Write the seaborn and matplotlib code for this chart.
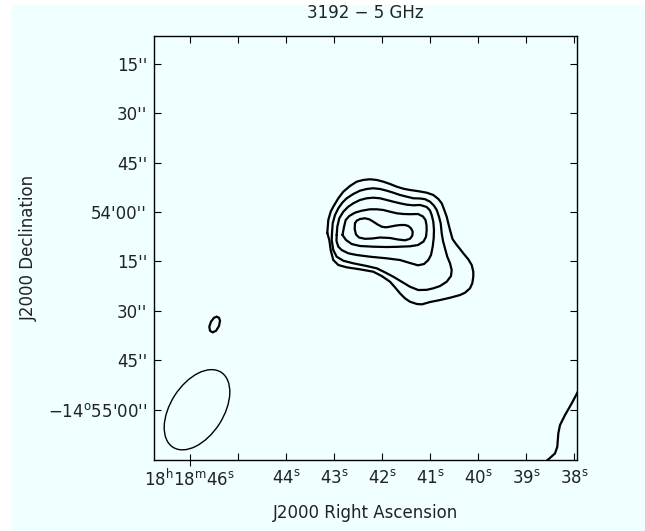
import numpy as np
import pandas as pd
import matplotlib
matplotlib.use("Agg")
import matplotlib.pyplot as plt
import seaborn as sns
from matplotlib.patches import Ellipse, Rectangle
from matplotlib.transforms import Affine2D

# ---------------- data (RA in seconds of 18h18m, Dec in arcsec offset from -14d54m00s) -------------
ra_ticks = [46, 45, 44, 43, 42, 41, 40, 39, 38]
ra_labels = [r"18$^{\mathrm{h}}$18$^{\mathrm{m}}$46$^{\mathrm{s}}$", "",
             r"44$^{\mathrm{s}}$", r"43$^{\mathrm{s}}$", r"42$^{\mathrm{s}}$",
             r"41$^{\mathrm{s}}$", r"40$^{\mathrm{s}}$", r"39$^{\mathrm{s}}$",
             r"38$^{\mathrm{s}}$"]
dec_ticks = [45, 30, 15, 0, -15, -30, -45, -60]
dec_labels = ["15''", "30''", "45''", "54'00''", "15''", "30''", "45''",
              "\u221214$^{\\mathrm{o}}$55'00''"]

c1_ra = [43.140, 43.119, 43.069, 43.015, 42.910, 42.806, 42.667, 42.527, 42.390, 42.250,
         42.110, 41.973, 41.833, 41.694, 41.556, 41.417, 41.244, 41.069, 40.931, 40.827,
         40.756, 40.702, 40.652, 40.619, 40.583, 40.531, 40.458, 40.375, 40.306, 40.202,
         40.131, 40.098, 40.098, 40.119, 40.167, 40.271, 40.375, 40.583, 40.792, 41.000,
         41.167, 41.271, 41.417, 41.521, 41.625, 41.729, 41.833, 42.006, 42.181, 42.458,
         42.735, 42.910, 43.015, 43.069, 43.098]
c1_dec = [-6.38, -2.43, 0.09, 1.61, 4.16, 6.16, 7.89, 9.20, 9.72, 9.93,
          9.72, 9.20, 8.50, 7.68, 7.07, 6.68, 6.31, 5.86, 5.16, 3.95,
          2.64, 0.61, -1.43, -3.43, -5.46, -8.20, -9.72, -11.23, -12.54, -14.36,
          -16.09, -18.12, -19.64, -21.65, -23.16, -24.50, -25.20, -26.02, -26.72, -27.32,
          -28.02, -27.93, -27.23, -26.20, -24.68, -22.86, -21.16, -19.43, -18.12, -17.40,
          -16.79, -16.09, -14.57, -11.54, -8.50]

c2_ra = [43.042, 43.027, 42.979, 42.910, 42.827, 42.735, 42.598, 42.458, 42.319, 42.181,
         42.042, 41.902, 41.765, 41.625, 41.485, 41.348, 41.208, 41.104, 41.000, 40.917,
         40.860, 40.813, 40.777, 40.756, 40.729, 40.688, 40.640, 40.583, 40.548, 40.563,
         40.652, 40.792, 40.931, 41.069, 41.244, 41.417, 41.590, 41.765, 41.938, 42.110,
         42.319, 42.598, 42.806, 42.944, 43.015, 43.048]
c2_dec = [-6.47, -3.43, -0.91, 1.12, 2.82, 4.16, 5.46, 6.47, 6.98, 7.20,
          6.98, 6.47, 5.86, 5.16, 4.65, 4.16, 4.10, 3.89, 3.13, 1.91,
          0.61, -1.43, -3.43, -6.47, -8.80, -11.02, -13.57, -15.57, -17.61, -19.43,
          -21.16, -22.47, -23.16, -23.62, -23.68, -22.68, -21.16, -19.64, -18.31, -17.09,
          -16.39, -15.57, -14.79, -13.57, -11.54, -8.50]

c3_ra = [42.944, 42.931, 42.890, 42.806, 42.702, 42.598, 42.458, 42.319, 42.181, 42.042,
         41.902, 41.765, 41.625, 41.485, 41.348, 41.208, 41.069, 41.000, 40.965, 40.931,
         40.917, 40.923, 40.944, 40.979, 41.035, 41.125, 41.250, 41.417, 41.625, 41.902,
         42.250, 42.527, 42.702, 42.840, 42.910, 42.948]
c3_dec = [-6.98, -4.46, -1.91, 0.09, 1.61, 2.64, 3.64, 4.16, 4.34, 4.16,
          3.64, 3.13, 2.64, 2.22, 2.03, 2.13, 1.52, 0.46, -0.91, -2.94,
          -5.46, -7.98, -10.53, -13.05, -14.57, -15.79, -16.18, -15.48, -14.57, -14.06,
          -13.57, -13.05, -12.54, -11.54, -10.53, -8.80]

c4_ra = [42.823, 42.792, 42.756, 42.681, 42.563, 42.423, 42.250, 42.110, 41.973, 41.833,
         41.694, 41.556, 41.417, 41.250, 41.146, 41.094, 41.073, 41.069, 41.083, 41.135,
         41.250, 41.417, 41.694, 41.902, 42.181, 42.458, 42.631, 42.750]
c4_dec = [-6.98, -4.55, -2.43, -1.21, -0.21, 0.39, 0.82, 0.82, 0.61, 0.09,
          -0.39, -0.61, -0.67, -0.61, -1.37, -2.43, -3.95, -5.46, -7.50, -8.96,
          -10.02, -10.41, -10.57, -10.63, -10.53, -10.32, -9.72, -8.50]

c5_ra = [42.563, 42.527, 42.458, 42.354, 42.265, 42.181, 42.098, 42.006, 41.917, 41.833,
         41.729, 41.625, 41.521, 41.452, 41.396, 41.360, 41.369, 41.417, 41.521, 41.667,
         41.833, 42.042, 42.208, 42.354, 42.479, 42.542, 42.569]
c5_dec = [-3.43, -2.64, -2.13, -1.91, -2.22, -2.94, -3.73, -4.46, -4.65, -4.46,
          -4.16, -3.95, -3.95, -4.25, -4.95, -5.98, -7.20, -8.14, -8.59, -8.35,
          -7.89, -7.74, -8.05, -8.14, -7.74, -6.83, -5.16]

knot_ra = [45.444, 45.396, 45.375, 45.396, 45.458, 45.527, 45.583, 45.598, 45.563, 45.500]
knot_dec = [-31.79, -32.09, -33.00, -34.61, -36.04, -36.52, -36.04, -34.82, -33.30, -32.09]

edge_ra = [37.875, 37.931, 38.048, 38.188, 38.292, 38.327, 38.348, 38.396, 38.535, 38.604]
edge_dec = [-53.1, -54.86, -58.08, -61.63, -64.67, -67.19, -71.25, -73.26, -75.08, -75.9]

beam_ra, beam_dec = 45.854, -60.0        # beam centre
beam_major, beam_minor, beam_pa = 27.0, 16.0, -32.5   # arcsec, arcsec, deg
source_dec_deg = -14.9

# ---------------- styling -------------
sns.set_theme(style="ticks")
plt.rcParams["font.family"] = ["DejaVu Sans"]
plt.rcParams["mathtext.fontset"] = "dejavusans"
bg = "#F0FFFF"
txt = "#222222"
fs = 12

fig = plt.figure(figsize=(6.45, 5.31), dpi=100)
fig.patch.set_facecolor("white")
fig.patches.append(Rectangle((11 / 645, 0), 1, 1 - 5 / 531, transform=fig.transFigure,
                             facecolor=bg, edgecolor="none", zorder=-10))
ax = fig.add_axes([154 / 645, 1 - 459.5 / 531, 423 / 645, 423.5 / 531])
ax.set_facecolor(bg)

rows = []
closed = {"c1": (c1_ra, c1_dec), "c2": (c2_ra, c2_dec), "c3": (c3_ra, c3_dec),
          "c4": (c4_ra, c4_dec), "c5": (c5_ra, c5_dec), "knot": (knot_ra, knot_dec)}
for name, (r, d) in closed.items():
    rr = list(r) + [r[0]]
    dd = list(d) + [d[0]]
    for i, (a, b) in enumerate(zip(rr, dd)):
        rows.append({"ra": a, "dec": b, "contour": name, "i": i})
for i, (a, b) in enumerate(zip(edge_ra, edge_dec)):
    rows.append({"ra": a, "dec": b, "contour": "edge", "i": i})
df = pd.DataFrame(rows)

sns.lineplot(data=df, x="ra", y="dec", units="contour", estimator=None, sort=False,
             color="black", linewidth=1.6, ax=ax, legend=False)
for line in ax.lines:
    line.set_solid_joinstyle("round")
    line.set_solid_capstyle("round")

arcsec_per_s = 15.0 * np.cos(np.radians(source_dec_deg))
beam = Ellipse((0, 0), width=beam_minor, height=beam_major, angle=beam_pa, fill=False,
               edgecolor="black", linewidth=1.0,
               transform=Affine2D().scale(-1 / arcsec_per_s, 1).translate(beam_ra, beam_dec) + ax.transData)
ax.add_patch(beam)

ax.set_xlim(46.75, 37.9375)
ax.set_ylim(-75.1, 53.4)
ax.set_xticks(ra_ticks)
ax.set_xticklabels(ra_labels)
ax.set_yticks(dec_ticks)
ax.set_yticklabels(dec_labels)

for s in ax.spines.values():
    s.set_visible(True)
    s.set_color("black")
    s.set_linewidth(1.0)

ax.tick_params(axis="both", which="major", direction="in", length=4.8, width=0.8,
               top=True, right=True, colors="black", labelcolor=txt, labelsize=fs)
ax.tick_params(axis="x", pad=6.5)
ax.tick_params(axis="y", pad=5)

ax.set_xlabel("J2000 Right Ascension", fontsize=fs, color=txt, labelpad=10)
ax.set_ylabel("J2000 Declination", fontsize=fs, color=txt, labelpad=7)
ax.set_title("3192 \u2212 5 GHz", fontsize=fs, color=txt, pad=13)
ax.grid(False)

t0 = ax.xaxis.get_major_ticks()[0]
t0.tick1line.set_marker("|")
t0.tick1line.set_markersize(9.2)

fig.savefig("out.png", dpi=100, facecolor="white")
